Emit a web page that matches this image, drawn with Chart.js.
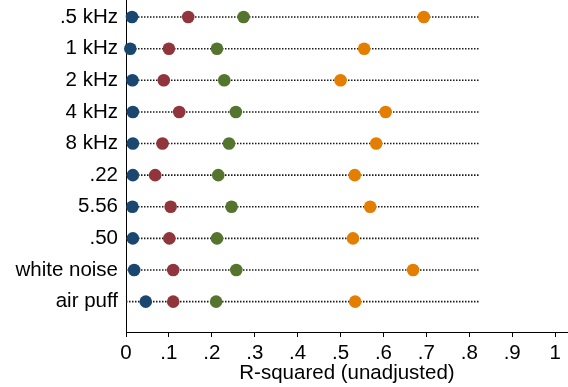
<!DOCTYPE html>
<html>
<head>
<meta charset="utf-8">
<script src="https://cdn.jsdelivr.net/npm/chart.js@4/dist/chart.umd.min.js"></script>
<style>
  html, body { margin: 0; padding: 0; background: #fff; }
  #wrap { width: 568px; height: 387px; position: relative; }
</style>
</head>
<body>
<div id="wrap"><canvas id="c"></canvas></div>
<script>
// Stimulus conditions (one row each, top to bottom)
const categories = ['.5 kHz', '1 kHz', '2 kHz', '4 kHz', '8 kHz', '.22', '5.56', '.50', 'white noise', 'air puff'];

// R-squared (unadjusted) for each of the four models
const seriesNavy   = [0.014, 0.010, 0.015, 0.016, 0.016, 0.016, 0.015, 0.016, 0.019, 0.046];
const seriesMaroon = [0.145, 0.100, 0.088, 0.124, 0.085, 0.068, 0.104, 0.101, 0.110, 0.110];
const seriesGreen  = [0.274, 0.212, 0.229, 0.256, 0.240, 0.215, 0.246, 0.212, 0.257, 0.210];
const seriesOrange = [0.694, 0.555, 0.500, 0.605, 0.583, 0.533, 0.569, 0.529, 0.669, 0.534];

// x-axis ticks
const xTickValues = [0, 0.1, 0.2, 0.3, 0.4, 0.5, 0.6, 0.7, 0.8, 0.9, 1];
const xTickLabels = ['0', '.1', '.2', '.3', '.4', '.5', '.6', '.7', '.8', '.9', '1'];

// extent of the dotted guide line behind each row
const guideFrom = 0;
const guideTo = 0.822;

const FONT = "'Liberation Sans', Arial, Helvetica, sans-serif";
const FONT_SIZE = 20.5;
Chart.defaults.font.family = FONT;
Chart.defaults.color = '#000';

function rowPoints(values) {
  return values.map((v, i) => ({ x: v, y: i }));
}

const guidePoints = [];
categories.forEach((_, i) => {
  guidePoints.push({ x: guideFrom, y: i });
  guidePoints.push({ x: guideTo, y: i });
  guidePoints.push({ x: NaN, y: i });
});

const dotStyle = (color) => ({
  type: 'scatter',
  backgroundColor: color,
  borderColor: color,
  pointRadius: 6.3,
  pointHoverRadius: 6.3,
  pointBorderWidth: 0,
  clip: false,
  order: 1
});

new Chart(document.getElementById('c'), {
  type: 'scatter',
  data: {
    datasets: [
      {
        type: 'line',
        data: guidePoints,
        showLine: true,
        spanGaps: false,
        borderColor: '#1a1a1a',
        borderWidth: 1.6,
        borderDash: [1.5, 1.5],
        pointRadius: 0,
        fill: false,
        clip: false,
        order: 10
      },
      Object.assign({ label: 'navy', data: rowPoints(seriesNavy) }, dotStyle('#1a476f')),
      Object.assign({ label: 'maroon', data: rowPoints(seriesMaroon) }, dotStyle('#90353b')),
      Object.assign({ label: 'green', data: rowPoints(seriesGreen) }, dotStyle('#55752f')),
      Object.assign({ label: 'orange', data: rowPoints(seriesOrange) }, dotStyle('#e37e00'))
    ]
  },
  options: {
    responsive: true,
    maintainAspectRatio: false,
    animation: false,
    events: [],
    layout: { autoPadding: false, padding: 0 },
    plugins: {
      legend: { display: false },
      tooltip: { enabled: false }
    },
    scales: {
      x: {
        type: 'linear',
        min: 0,
        max: 1.03,
        afterBuildTicks: (scale) => {
          scale.ticks = xTickValues.map(v => ({ value: v }));
        },
        afterFit: (scale) => {
          scale.paddingLeft = 0;
          scale.paddingRight = 0;
          scale.height = 55;
        },
        ticks: {
          autoSkip: false,
          maxRotation: 0,
          padding: 4,
          font: { size: FONT_SIZE },
          color: '#000',
          callback: (value, index) => xTickLabels[index]
        },
        grid: {
          display: true,
          drawOnChartArea: false,
          drawTicks: true,
          tickLength: 5,
          color: '#000',
          lineWidth: 1
        },
        border: { display: true, color: '#000', width: 1 },
        title: {
          display: true,
          text: 'R-squared (unadjusted)',
          font: { size: FONT_SIZE },
          color: '#000',
          padding: { top: 0, bottom: 1 }
        }
      },
      y: {
        type: 'linear',
        reverse: true,
        min: -0.54,
        max: 9.96,
        afterBuildTicks: (scale) => {
          scale.ticks = categories.map((_, i) => ({ value: i }));
        },
        afterFit: (scale) => {
          scale.width = 126;
          scale.paddingTop = 0;
          scale.paddingBottom = 0;
        },
        ticks: {
          autoSkip: false,
          padding: 8,
          font: { size: FONT_SIZE },
          color: '#000',
          callback: (value) => categories[value]
        },
        grid: { display: false, drawTicks: false },
        border: { display: true, color: '#000', width: 1 }
      }
    }
  }
});
</script>
</body>
</html>
